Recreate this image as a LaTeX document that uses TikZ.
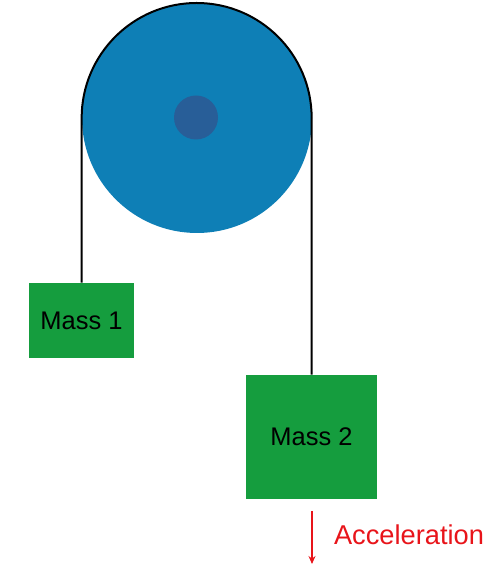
\documentclass[tikz,border=0pt]{standalone}
\usepackage{fontspec}
\setmainfont{Liberation Sans}
\usepackage{tikz}
\usetikzlibrary{positioning, arrows.meta, calc}
\usepackage{xcolor}
\definecolor{pulley-blue}{RGB}{14,127,182}
\definecolor{hub-blue}{RGB}{40,94,152}
\definecolor{mass-green}{RGB}{21,157,62}
\definecolor{accel-red}{RGB}{232,20,26}

\tikzset{
	mass/.style={fill=mass-green, inner sep=0pt, font=\fontsize{14.5}{16}\selectfont},
	rope/.style={line width=0.04cm, black}
}

\begin{document}
\begin{tikzpicture}
					\useasboundingbox (0,0) rectangle (9.92,11.38);
					
					\node[circle, fill=pulley-blue, minimum size=4.6cm, inner sep=0pt] at (3.94,9.02) (pulley) {};
					\node[circle, fill=hub-blue, minimum size=0.88cm, inner sep=0pt] at (3.92,9.03) (hub) {};
					
					\node[mass, minimum width=2.1cm, minimum height=1.5cm] at (1.63,4.97) (mass1) {Mass 1};
					\node[mass, minimum width=2.62cm, minimum height=2.48cm] at (6.23,2.64) (mass2) {Mass 2};
					
					\draw[rope] (mass1.north) -- (pulley.west) arc[start angle=180, end angle=0, radius=2.3cm] -- (mass2.north);
					
					\coordinate (accstart) at (6.24,1.16);
					\coordinate (accend) at (6.24,0.1);
					\draw[accel-red, line width=0.6pt, -{Stealth[length=1.6mm, width=1.4mm]}] (accstart) -- (accend);
					\node[text=accel-red, font=\fontsize{15.5}{17}\selectfont] at (8.18,0.68) (acclabel) {Acceleration};
				\end{tikzpicture}
\end{document}
